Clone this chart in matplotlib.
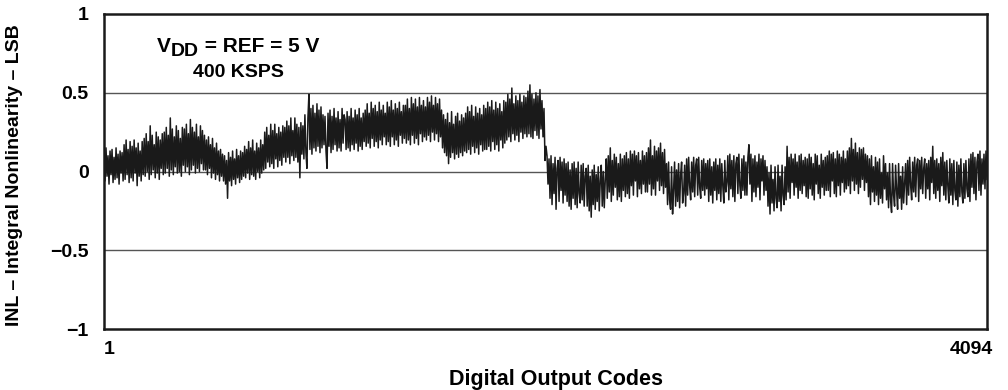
import numpy as np
import matplotlib
matplotlib.use("Agg")
import matplotlib.pyplot as plt
from matplotlib.transforms import ScaledTranslation

plt.rcParams['font.family'] = ['Liberation Sans', 'DejaVu Sans']
plt.rcParams['font.weight'] = 'bold'

# INL values (LSB), evenly spaced over codes 1..4094
inl = [
    0.12, -0.06, 0.15, -0.03, 0.10, -0.08, 0.13, -0.02, 0.14, -0.07, 0.09, -0.05, 0.15, -0.04, 0.11, -0.08, 0.13, -0.01, 0.12, -0.06,
    0.17, -0.05, 0.20, -0.02, 0.14, -0.07, 0.19, -0.04, 0.16, -0.06, 0.20, -0.01, 0.15, -0.09, 0.18, -0.03, 0.13, -0.06, 0.19, -0.02,
    0.21, -0.03, 0.24, 0.00, 0.19, -0.05, 0.29, -0.02, 0.23, 0.01, 0.17, -0.04, 0.25, -0.01, 0.22, -0.05, 0.20, 0.02, 0.24, -0.02,
    0.25, -0.01, 0.28, 0.02, 0.23, -0.03, 0.34, 0.01, 0.27, -0.02, 0.22, 0.03, 0.29, -0.01, 0.26, 0.00, 0.21, -0.03, 0.28, 0.04,
    0.27, 0.00, 0.30, 0.03, 0.24, -0.02, 0.33, 0.01, 0.28, 0.04, 0.25, -0.01, 0.30, 0.02, 0.22, 0.00, 0.29, 0.05, 0.26, 0.01,
    0.23, 0.01, 0.20, -0.02, 0.22, 0.02, 0.17, -0.04, 0.21, -0.01, 0.15, -0.05, 0.18, -0.02, 0.13, -0.06, 0.14, -0.03, 0.11, -0.06,
    0.10, -0.08, 0.07, -0.17, 0.12, -0.06, 0.09, -0.09, 0.13, -0.05, 0.08, -0.08, 0.14, -0.04, 0.10, -0.07, 0.13, -0.05, 0.12, -0.03,
    0.16, -0.04, 0.14, -0.01, 0.19, -0.05, 0.15, -0.02, 0.20, -0.03, 0.13, -0.05, 0.18, 0.00, 0.15, -0.04, 0.20, -0.01, 0.17, 0.01,
    0.25, 0.02, 0.28, 0.06, 0.23, 0.03, 0.30, 0.05, 0.26, 0.02, 0.30, 0.08, 0.24, 0.03, 0.28, 0.07, 0.25, 0.04, 0.29, 0.09,
    0.28, 0.06, 0.32, 0.09, 0.29, 0.05, 0.34, 0.10, 0.26, 0.07, 0.34, 0.09, 0.30, 0.06, 0.28, -0.04, 0.31, 0.11, 0.29, 0.08,
    0.36, 0.12, 0.02, 0.34, 0.49, 0.14, 0.40, 0.11, 0.42, 0.15, 0.37, 0.13, 0.43, 0.16, 0.39, 0.12, 0.41, 0.15, 0.36, 0.17,
    0.35, 0.13, 0.02, 0.37, 0.16, 0.39, 0.12, 0.35, 0.14, 0.40, 0.17, 0.34, 0.13, 0.38, 0.15, 0.33, 0.13, 0.40, 0.18, 0.36,
    0.33, 0.14, 0.38, 0.15, 0.35, 0.13, 0.40, 0.17, 0.34, 0.14, 0.39, 0.18, 0.36, 0.13, 0.40, 0.16, 0.34, 0.14, 0.37, 0.19,
    0.39, 0.16, 0.43, 0.18, 0.37, 0.15, 0.44, 0.21, 0.40, 0.16, 0.42, 0.19, 0.38, 0.15, 0.44, 0.20, 0.39, 0.17, 0.42, 0.22,
    0.37, 0.17, 0.44, 0.19, 0.41, 0.16, 0.45, 0.22, 0.39, 0.17, 0.43, 0.20, 0.40, 0.16, 0.44, 0.23, 0.38, 0.18, 0.42, 0.21,
    0.42, 0.18, 0.46, 0.20, 0.40, 0.17, 0.47, 0.23, 0.43, 0.18, 0.46, 0.21, 0.41, 0.17, 0.47, 0.24, 0.42, 0.19, 0.45, 0.22,
    0.41, 0.20, 0.47, 0.23, 0.44, 0.19, 0.48, 0.25, 0.42, 0.20, 0.47, 0.24, 0.43, 0.19, 0.46, 0.22, 0.39, 0.15, 0.36, 0.12,
    0.33, 0.10, 0.37, 0.05, 0.31, 0.09, 0.38, 0.12, 0.30, 0.08, 0.35, 0.11, 0.37, 0.09, 0.32, 0.12, 0.36, 0.10, 0.34, 0.13,
    0.37, 0.12, 0.41, 0.14, 0.38, 0.11, 0.42, 0.16, 0.35, 0.12, 0.41, 0.15, 0.37, 0.11, 0.40, 0.17, 0.36, 0.13, 0.42, 0.14,
    0.40, 0.14, 0.44, 0.16, 0.41, 0.13, 0.45, 0.19, 0.39, 0.14, 0.44, 0.17, 0.40, 0.13, 0.43, 0.20, 0.38, 0.15, 0.45, 0.18,
    0.44, 0.20, 0.49, 0.22, 0.46, 0.19, 0.53, 0.24, 0.43, 0.20, 0.48, 0.23, 0.45, 0.19, 0.49, 0.25, 0.44, 0.21, 0.48, 0.24,
    0.47, 0.22, 0.51, 0.24, 0.55, 0.22, 0.49, 0.21, 0.46, 0.26, 0.50, 0.23, 0.48, 0.21, 0.52, 0.27, 0.45, 0.22, 0.40, 0.07,
    0.16, 0.10, -0.08, 0.08, -0.17, 0.10, -0.21, 0.05, -0.14, 0.09, -0.24, 0.02, 0.07, -0.19, 0.09, -0.12, 0.06, -0.20, 0.08, -0.15,
    0.05, -0.19, 0.06, -0.22, 0.01, -0.24, 0.05, -0.17, 0.06, -0.21, 0.02, -0.23, 0.06, -0.14, -0.20, 0.04, -0.18, 0.05, -0.22, -0.03,
    0.02, -0.22, 0.04, -0.25, -0.03, -0.29, 0.01, -0.21, 0.04, -0.24, -0.02, -0.19, 0.03, -0.25, -0.06, 0.04, -0.22, 0.00, -0.23, -0.05,
    0.08, -0.17, 0.10, -0.13, 0.15, -0.19, 0.07, -0.15, 0.11, -0.10, 0.09, -0.18, 0.05, -0.16, 0.11, -0.19, 0.08, -0.12, 0.10, -0.16,
    0.12, -0.14, 0.08, -0.17, 0.13, -0.09, 0.11, -0.15, 0.13, -0.06, 0.10, -0.16, 0.12, -0.11, 0.07, -0.14, 0.13, -0.08, 0.10, -0.13,
    0.12, -0.13, 0.15, -0.08, 0.20, -0.15, 0.10, -0.11, 0.16, -0.15, 0.13, -0.06, 0.15, -0.12, 0.18, -0.09, 0.12, -0.14, 0.14, -0.10,
    0.05, -0.21, 0.06, -0.18, -0.24, 0.03, -0.27, -0.12, 0.06, -0.22, 0.01, -0.19, 0.05, -0.23, -0.02, 0.06, -0.20, -0.14, 0.04, -0.22,
    0.08, -0.15, 0.09, -0.09, -0.18, 0.06, -0.13, 0.09, -0.16, 0.04, 0.08, -0.15, 0.09, -0.10, -0.17, 0.07, -0.12, 0.08, -0.15, 0.05,
    -0.11, 0.07, -0.19, 0.08, -0.15, 0.03, -0.20, 0.06, -0.12, 0.08, -0.18, 0.04, -0.14, 0.08, -0.19, 0.05, -0.09, -0.20, 0.07, -0.13,
    -0.07, 0.10, -0.18, 0.11, -0.11, 0.07, -0.16, 0.10, -0.19, 0.05, 0.09, -0.14, 0.11, -0.09, -0.17, 0.08, -0.12, 0.10, -0.15, 0.06,
    -0.15, 0.09, 0.17, -0.08, 0.11, -0.19, 0.08, -0.13, 0.10, -0.16, 0.06, -0.10, 0.11, -0.18, 0.08, -0.06, 0.10, -0.15, 0.07, -0.12,
    0.03, -0.22, -0.01, -0.27, 0.04, -0.20, -0.05, -0.25, 0.03, -0.17, -0.23, 0.04, -0.19, -0.03, -0.25, 0.04, -0.15, -0.21, 0.03, -0.18,
    0.16, -0.13, 0.09, -0.17, 0.11, -0.07, 0.08, -0.15, 0.11, -0.10, 0.06, -0.17, 0.10, -0.12, 0.11, -0.14, 0.07, -0.09, 0.09, -0.16,
    0.08, -0.17, 0.11, -0.11, 0.09, -0.15, 0.05, -0.18, 0.11, -0.08, 0.10, -0.14, 0.04, -0.17, 0.11, -0.10, 0.07, -0.15, 0.09, -0.12,
    0.10, -0.12, 0.13, -0.16, 0.11, -0.06, 0.12, -0.14, 0.08, -0.16, 0.13, -0.09, 0.11, -0.15, 0.09, -0.07, 0.13, -0.13, 0.08, -0.11,
    0.13, -0.09, 0.15, -0.14, 0.21, -0.06, 0.14, -0.12, 0.18, -0.08, 0.12, -0.14, 0.15, -0.10, 0.14, -0.05, 0.15, -0.12, 0.11, -0.07,
    0.10, -0.16, 0.08, -0.21, 0.10, -0.13, 0.03, -0.19, 0.09, -0.15, 0.06, -0.21, 0.08, -0.17, -0.01, -0.20, 0.10, -0.11, 0.05, -0.18,
    -0.01, -0.23, 0.05, -0.18, -0.26, 0.05, -0.15, -0.22, 0.04, -0.12, -0.24, 0.05, -0.17, -0.03, -0.24, 0.03, -0.20, -0.08, 0.05, -0.21,
    0.07, -0.15, 0.09, -0.09, -0.18, 0.06, -0.13, 0.09, -0.16, 0.04, 0.08, -0.19, 0.07, -0.11, 0.09, -0.14, 0.02, 0.08, -0.17, 0.05,
    -0.11, 0.07, -0.18, 0.09, -0.07, 0.16, -0.14, 0.07, -0.17, 0.08, -0.12, 0.05, -0.19, 0.09, -0.09, 0.12, -0.15, 0.06, -0.18, 0.07,
    -0.09, -0.20, 0.08, -0.15, 0.05, -0.21, 0.07, -0.12, -0.18, 0.06, -0.22, 0.04, -0.16, 0.08, -0.13, -0.20, 0.05, -0.17, 0.07, -0.11,
    -0.16, 0.08, -0.19, 0.11, -0.10, 0.12, -0.14, 0.09, -0.18, 0.06, 0.11, -0.12, 0.13, -0.15, 0.08, -0.08, 0.11, -0.11, 0.13, -0.05,
]
code_first, code_last = 1, 4094
x_ticks = [1, 4094]
x_ticklabels = ["1", "4094"]
y_ticks = [-1, -0.5, 0, 0.5, 1]
y_ticklabels = ["\u22121", "\u22120.5", "0", "0.5", "1"]
grid_levels = [-0.5, 0, 0.5]

codes = np.linspace(code_first, code_last, len(inl))

W, H = 1008, 390
fig = plt.figure(figsize=(W/100, H/100), dpi=100)
ax = fig.add_axes([104/W, 1-329/H, (987-104)/W, (329-14)/H])

for g in grid_levels:
    ax.axhline(g, color='#555555', lw=1.0, zorder=1)

ax.plot(codes, inl, color='#1a1a1a', lw=1.1, zorder=2)

ax.set_xlim(code_first, code_last)
ax.set_ylim(-1, 1)
ax.set_xticks(x_ticks)
ax.set_xticklabels(x_ticklabels, fontsize=14, fontweight='bold')
ax.set_yticks(y_ticks)
ax.set_yticklabels(y_ticklabels, fontsize=14, fontweight='bold')
ax.tick_params(axis='both', length=0)
ax.tick_params(axis='x', pad=9)
ax.tick_params(axis='y', pad=11)
labs = ax.get_xticklabels()
labs[0].set_ha('left')
labs[-1].set_ha('right')
labs[-1].set_transform(labs[-1].get_transform() + ScaledTranslation(6/100, 0, fig.dpi_scale_trans))

for s in ax.spines.values():
    s.set_linewidth(1.8)
    s.set_color('#1a1a1a')

# annotation: V_DD = REF = 5 V / 400 KSPS
fig.canvas.draw()
r = fig.canvas.get_renderer()
tV = fig.text(0, 0, "V", fontsize=15, fontweight='bold', va='baseline')
tD = fig.text(0, 0, "DD", fontsize=14, fontweight='bold', va='baseline')
tR = fig.text(0, 0, " = REF = 5 V", fontsize=15, fontweight='bold', va='baseline')
wV = tV.get_window_extent(r).width
wD = tD.get_window_extent(r).width
wR = tR.get_window_extent(r).width
cx = 238
x0 = cx - (wV + wD + wR) / 2
tV.set_position((x0 / W, 1 - 52 / H))
tD.set_position(((x0 + wV) / W, 1 - 56 / H))
tR.set_position(((x0 + wV + wD) / W, 1 - 52 / H))
fig.text(cx / W, 1 - 77 / H, "400 KSPS", fontsize=14, fontweight='bold',
         ha='center', va='baseline')

fig.text(15/W, 1-175/H, "INL \u2013 Integral Nonlinearity \u2013 LSB",
         rotation=90, ha='center', va='center', fontsize=14, fontweight='bold')
fig.text(556/W, 1-385/H, "Digital Output Codes",
         ha='center', va='baseline', fontsize=15.5, fontweight='bold')

fig.savefig("out.png", dpi=100)
